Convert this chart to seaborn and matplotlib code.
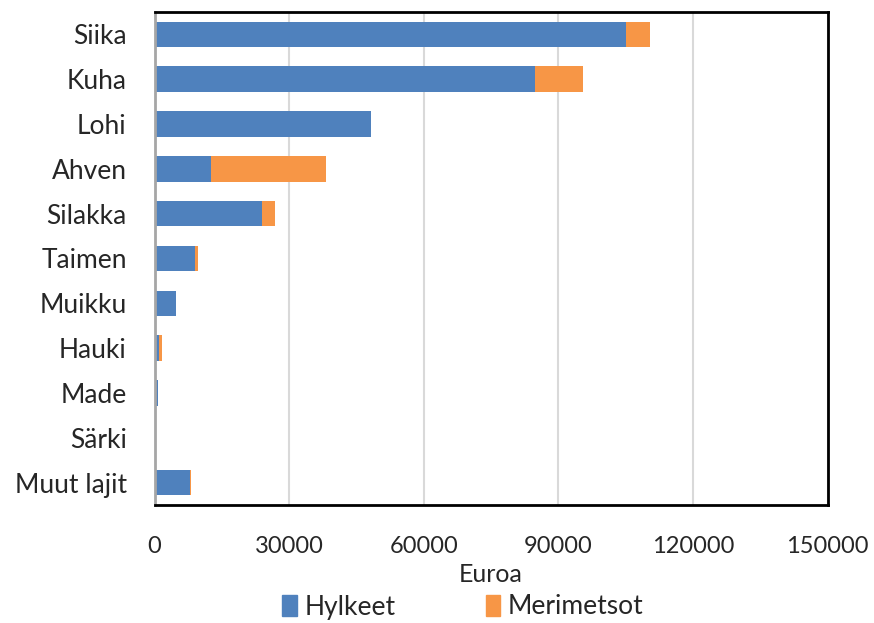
import pandas as pd
import numpy as np
import matplotlib
matplotlib.use('Agg')
import matplotlib.pyplot as plt
import seaborn as sns
from matplotlib.patches import Patch

# Data
lajit = ['Siika', 'Kuha', 'Lohi', 'Ahven', 'Silakka', 'Taimen',
         'Muikku', 'Hauki', 'Made', 'Särki', 'Muut lajit']
hylkeet = [105200, 84700, 48200, 12500, 23900, 9000, 4900, 1000, 700, 100, 8000]
merimetsot = [5200, 10700, 0, 25800, 2900, 700, 0, 700, 0, 300, 200]
ticks = [0, 30000, 60000, 90000, 120000, 150000]

df = pd.DataFrame({'Laji': lajit, 'Hylkeet': hylkeet, 'Merimetsot': merimetsot})
df['Yhteensa'] = df['Hylkeet'] + df['Merimetsot']

sns.set_style('white')
plt.rcParams['font.family'] = ['Lato', 'DejaVu Sans']

blue = '#4F81BD'
orange = '#F79646'

fig = plt.figure(figsize=(8.74, 6.23), dpi=100)
ax = fig.add_axes([154.5 / 874, 1 - 505 / 623, (827.5 - 154.5) / 874, (505 - 12) / 623])

# stacked bars: total in orange, blue drawn over it
sns.barplot(data=df, y='Laji', x='Yhteensa', color=orange, width=0.57,
            saturation=1, ax=ax, orient='h', linewidth=0)
sns.barplot(data=df, y='Laji', x='Hylkeet', color=blue, width=0.57,
            saturation=1, ax=ax, orient='h', linewidth=0)

ax.set_xlim(0, 150000)
ax.set_xticks(ticks)
ax.set_xticklabels([str(t) for t in ticks], fontsize=17)
ax.tick_params(axis='y', labelsize=19, length=0, pad=20)
ax.tick_params(axis='x', length=0, pad=22)
ax.set_ylabel('')
ax.set_xlabel('Euroa', fontsize=18, labelpad=5)

ax.grid(axis='x', color='#D9D9D9', linewidth=1.5)
ax.set_axisbelow(True)
for s in ax.spines.values():
    s.set_visible(True)
    s.set_color('black')
    s.set_linewidth(2)
ax.spines['left'].set_color('#A6A6A6')

handles = [Patch(color=blue, label='Hylkeet'), Patch(color=orange, label='Merimetsot')]
fig.legend(handles=handles, loc='center', bbox_to_anchor=(463 / 874, 1 - 607 / 623), ncol=2,
           frameon=False, fontsize=19, handlelength=0.55, handleheight=0.85,
           handletextpad=0.3, columnspacing=3.4, borderpad=0)

fig.savefig('out.png', dpi=100)
